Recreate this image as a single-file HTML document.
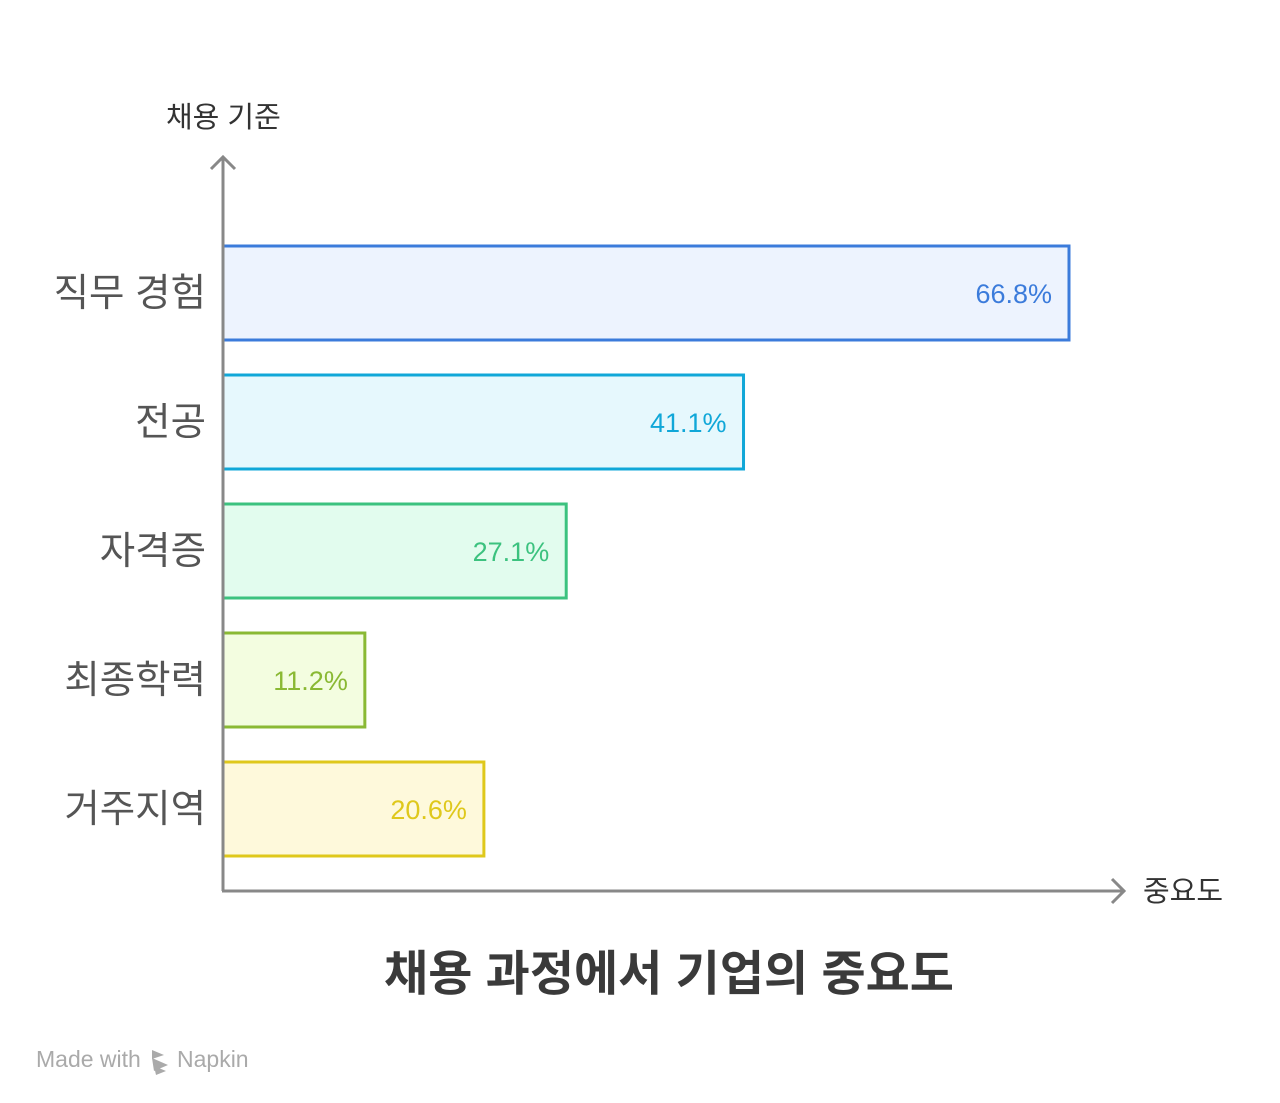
<!DOCTYPE html>
<html><head><meta charset="utf-8">
<style>
html,body{margin:0;padding:0;background:#fff;}
svg{display:block;font-family:"Liberation Sans","Noto Sans CJK KR",sans-serif;}
</style></head>
<body>
<svg id="chart" width="1280" height="1103" viewBox="0 0 1280 1103">
  <text x="166" y="127" font-size="29" fill="#333">채용 기준</text>
  <text x="1143" y="901" font-size="29" fill="#333">중요도</text>
  <g id="bars"></g>
  <line x1="223" y1="158" x2="223" y2="891" stroke="#888" stroke-width="3"/>
  <polyline points="211,169 223,157 235,169" fill="none" stroke="#888" stroke-width="3"/>
  <line x1="222" y1="891" x2="1124" y2="891" stroke="#888" stroke-width="3"/>
  <polyline points="1112,879 1124,891 1112,903" fill="none" stroke="#888" stroke-width="3"/>
  <text x="669" y="990" font-size="48" font-weight="bold" fill="#3a3a3a" text-anchor="middle">채용 과정에서 기업의 중요도</text>
  <g>
    <text x="36" y="1067" font-size="23" fill="#aaa">Made with</text>
    <path d="M152 1050 l12 5 l-12 4 z M152 1058 l16 7 l-14 6 z M154 1066 l12 5 l-10 4 z" fill="#aaa"/>
    <text x="177" y="1067" font-size="23" fill="#aaa">Napkin</text>
  </g>
</svg>
<script>
const categories = ["직무 경험","전공","자격증","최종학력","거주지역"];
const values = [66.8, 41.1, 27.1, 11.2, 20.6];
const valueLabels = ["66.8%","41.1%","27.1%","11.2%","20.6%"];
const strokes = ["#3b7bdb","#10a7d8","#3cc27f","#8ab934","#dfc81b"];
const fills = ["#edf3fe","#e6f8fd","#e2fcee","#f3fde0","#fef9db"];
const x0 = 223, pxPerUnit = 846/66.8;
function xScale(v){ return x0 + v*pxPerUnit; }
function yScale(i){ return 246 + i*129; }
const barH = 94;
const NS = "http://www.w3.org/2000/svg";
const g = document.getElementById("bars");
categories.forEach((c,i)=>{
  const y = yScale(i), w = xScale(values[i]) - x0;
  const r = document.createElementNS(NS,"rect");
  r.setAttribute("x", x0); r.setAttribute("y", y);
  r.setAttribute("width", w); r.setAttribute("height", barH);
  r.setAttribute("fill", fills[i]); r.setAttribute("stroke", strokes[i]); r.setAttribute("stroke-width", 3);
  
  
  g.appendChild(r);
  const vt = document.createElementNS(NS,"text");
  vt.setAttribute("x", xScale(values[i]) - 17); vt.setAttribute("y", y + barH/2 + 10);
  vt.setAttribute("text-anchor","end"); vt.setAttribute("font-size", 27); vt.setAttribute("fill", strokes[i]);
  vt.textContent = valueLabels[i];
  
  
  g.appendChild(vt);
  const ct = document.createElementNS(NS,"text");
  ct.setAttribute("x", 206); ct.setAttribute("y", y + barH/2 + 13);
  ct.setAttribute("text-anchor","end"); ct.setAttribute("font-size", 38.5); ct.setAttribute("fill", "#555");
  ct.textContent = c;
  
  
  g.appendChild(ct);
});
</script>
</body></html>
